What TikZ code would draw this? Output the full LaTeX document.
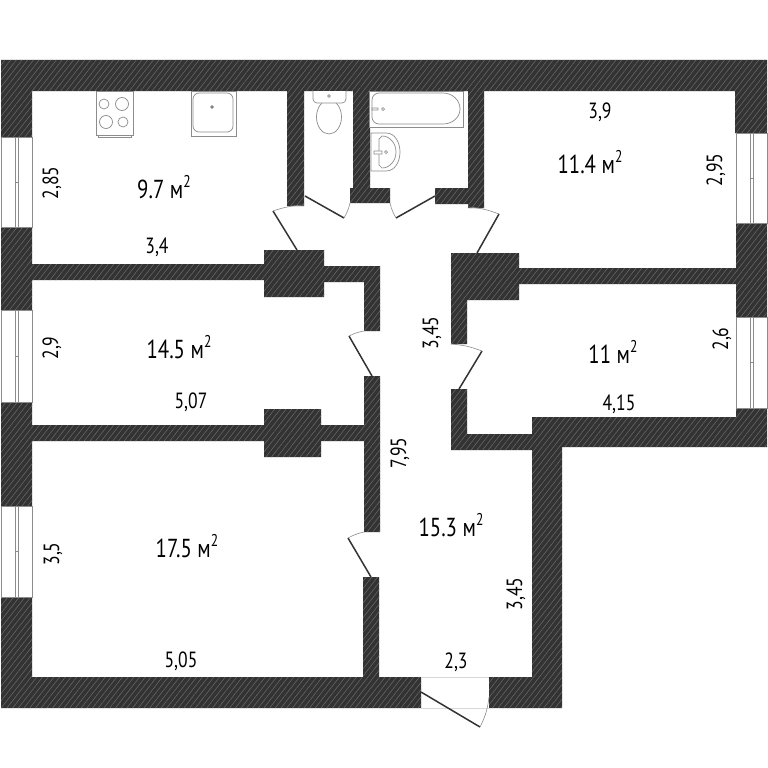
\documentclass[tikz,border=0pt]{standalone}
\usepackage{fontspec}
\setmainfont[FakeStretch=0.8]{PT Sans}
\usetikzlibrary{patterns.meta}
\definecolor{wallgray}{HTML}{333333}
\definecolor{hatchgray}{HTML}{6C6C6C}
\definecolor{fixgray}{HTML}{8C8C8C}
\definecolor{sillgray}{HTML}{D8D8D8}
\newcommand{\sqmeter}{м\raisebox{.4em}{\fontsize{17}{17}\selectfont 2}}
\tikzset{
    wall-part/.style = {fill=wallgray, postaction={pattern={Lines[angle=52,distance=4.5pt,line width=.5pt]}, pattern color=hatchgray}},
    door-leaf/.style = {draw=wallgray, line width=1.5pt},
    door-arc/.style = {draw=fixgray, line width=.6pt},
    fixture/.style = {draw=fixgray, line width=.7pt, fill=white},
    area-label/.style = {text=black, font=\fontsize{26}{26}\selectfont, inner sep=0pt},
    size-label/.style = {text=black, font=\fontsize{22}{22}\selectfont, inner sep=0pt},
    size-side/.style = {size-label, rotate=90},
}

\begin{document}
\begin{tikzpicture}[x=1pt,y=-1pt]
\useasboundingbox (0,0) rectangle (768,768);
% outer and inner walls
\path[wall-part] (1,60) rectangle (767,91)
    (1,60) rectangle (32,137) (1,227) rectangle (32,310) (1,402) rectangle (32,506) (1,597) rectangle (32,708)
    (1,677) rectangle (421,708) (489,677) rectangle (562,708)
    (735,60) rectangle (767,133) (736,223) rectangle (767,317) (736,408) rectangle (767,447)
    (532,417) rectangle (767,447) (532,417) rectangle (562,708)
    (451,434) rectangle (532,450) (451,389) rectangle (467,450)
    (451,253) rectangle (519,300) (451,253) rectangle (467,344) (519,268) rectangle (737,284)
    (468,91) rectangle (484,208) (435,188) rectangle (484,204) (350,188) rectangle (390,203)
    (353,91) rectangle (370,190) (287,91) rectangle (304,206)
    (264,250) rectangle (324,297) (32,264) rectangle (264,280) (324,266) rectangle (380,282)
    (364,266) rectangle (380,331) (364,376) rectangle (380,532) (363,577) rectangle (379,677)
    (32,425) rectangle (264,441) (264,409) rectangle (321,457) (321,425) rectangle (364,441);
% windows
\foreach \wx/\wy/\wh in {1/137/90, 1/310/92, 1/506/91, 736/133/90, 736/317/91} {
    \draw[fixgray, line width=.7pt, fill=white] (\wx,\wy) rectangle ++(31,\wh);
    \draw[fixgray, line width=.5pt] (\wx+14,\wy) -- ++(0,\wh) (\wx+17.5,\wy) -- ++(0,\wh)
        (\wx+14,\wy+\wh/2) -- ++(3.5,0);
}
% doors
\coordinate (kitchen-leaf) at (273,211);
\draw[door-leaf] (kitchen-leaf) -- (297,250);
\draw[door-arc] (kitchen-leaf) to[bend left=8] (304,205);
\coordinate (wc-leaf) at (344,218);
\draw[door-leaf] (wc-leaf) -- (305,196);
\draw[door-arc] (wc-leaf) to[bend right=8] (350,203);
\coordinate (bath-leaf) at (396,218);
\draw[door-leaf] (bath-leaf) -- (435,196);
\draw[door-arc] (bath-leaf) to[bend left=8] (390,203);
\coordinate (east-leaf) at (499,214);
\draw[door-leaf] (east-leaf) -- (477,253);
\draw[door-arc] (east-leaf) to[bend right=8] (468,207);
\coordinate (middle-leaf) at (349,336);
\draw[door-leaf] (middle-leaf) -- (372,376);
\draw[door-arc] (middle-leaf) to[bend left=8] (364,331);
\coordinate (south-leaf) at (482,351);
\draw[door-leaf] (south-leaf) -- (459,389);
\draw[door-arc] (south-leaf) to[bend right=8] (451,344);
\coordinate (large-leaf) at (348,538);
\draw[door-leaf] (large-leaf) -- (371,577);
\draw[door-arc] (large-leaf) to[bend left=8] (364,532);
\draw[sillgray, line width=.6pt] (421,677) -- (489,677) (421,708) -- (489,708);
\coordinate (entry-leaf) at (480,727);
\draw[door-leaf] (entry-leaf) -- (421,692);
\draw[door-arc] (entry-leaf) to[bend right=10] (489,697);
% stove
\draw[fixture] (98,134) rectangle (131,137);
\draw[fixture] (96,91) rectangle (133,135);
\foreach \bx/\by/\br in {104/104/5, 122/104/6.5, 106/122/6.5, 123/122/5}
    \draw[fixture] (\bx,\by) circle (\br);
% kitchen sink
\draw[fixture] (191,91) rectangle (236,136);
\draw[fixture, rounded corners=6pt] (193,93) rectangle (233,132);
\draw[fixture, fill=wallgray!70] (212,107) circle (1.5);
% toilet
\draw[fixture] (329,117) ellipse (12.5 and 17);
\draw[fixture, rounded corners=4pt] (313,91) -- (313,103) -- (346,103) -- (346,91);
\draw[fixture] (329,96) circle (1.3);
% bath
\draw[fixture] (369,91) rectangle (463,127);
\draw[fixture] (379,93) to[out=180,in=90] (372,100) -- (372,117) to[out=-90,in=180] (379,124) -- (443,124)
    to[out=0,in=-90] (460,109) to[out=90,in=0] (443,93) -- cycle;
\draw[fixture] (383,109) circle (1.5) (372,108) rectangle (378,110);
% basin
\draw[fixture] (371,133) -- (386,133) to[out=0,in=90] (400,152) to[out=-90,in=0] (386,171) -- (371,171) -- cycle;
\draw[fixture] (382,136) to[out=0,in=90] (396,152) to[out=-90,in=0] (382,168) -- (379,165) -- (379,139) -- cycle;
\draw[fixture] (386,152) circle (1.5) (374,151) rectangle (382,154);
% room areas
\node[area-label] (kitchen-area) at (164,187) {9.7 \sqmeter};
\node[area-label] (east-area) at (590,162) {11.4 \sqmeter};
\node[area-label] (middle-area) at (179,347) {14.5 \sqmeter};
\node[area-label] (south-area) at (613,352) {11 \sqmeter};
\node[area-label] (hall-area) at (451,525) {15.3 \sqmeter};
\node[area-label] (large-area) at (187,546) {17.5 \sqmeter};
% sizes
\node[size-label] (kitchen-width) at (157,247) {3,4};
\node[size-label] (east-width) at (600,112) {3,9};
\node[size-label] (middle-width) at (191,402) {5,07};
\node[size-label] (south-width) at (619,404) {4,15};
\node[size-label] (large-width) at (181,661) {5,05};
\node[size-label] (hall-width) at (456,662) {2,3};
\node[size-side] (kitchen-depth) at (52,183) {2,85};
\node[size-side] (middle-depth) at (52,348) {2,9};
\node[size-side] (large-depth) at (53,554) {3,5};
\node[size-side] (east-depth) at (716,170) {2,95};
\node[size-side] (south-depth) at (722,339) {2,6};
\node[size-side] (upper-hall) at (432,333) {3,45};
\node[size-side] (long-hall) at (400,453) {7,95};
\node[size-side] (lower-hall) at (516,594) {3,45};
\end{tikzpicture}
\end{document}
